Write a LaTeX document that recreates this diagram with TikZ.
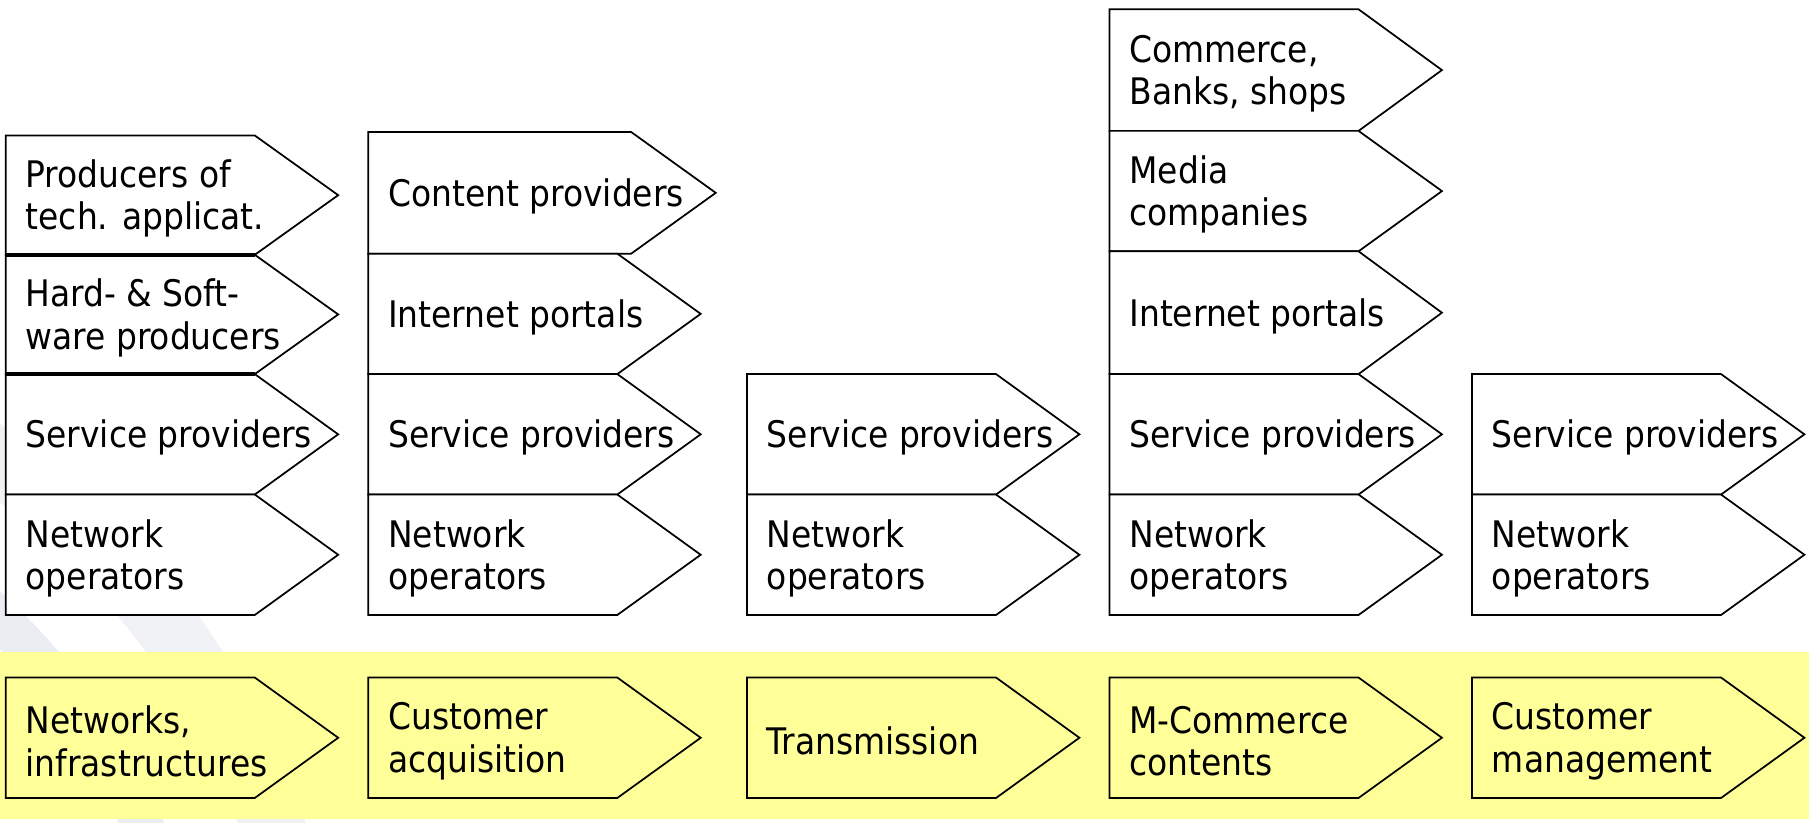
\documentclass[tikz,border=0pt]{standalone}
\usepackage{fontspec}
\setmainfont{DejaVu Sans Condensed}
\definecolor{bandyellow}{RGB}{255,255,153}
\definecolor{swoosh}{RGB}{240,242,246}
\definecolor{swooshb}{RGB}{234,237,242}
\newcommand{\chevbox}[8]{%
  \draw[boxline,fill=#8] (#2,#3) -- (#4,#3) -- (#6,{(#3+#5)/2}) -- (#4,#5) -- (#2,#5) -- cycle;
  \node[boxtext] (#1) at ({#2+17},{(#3+#5)/2+3}) {#7};
}
\begin{document}
\begin{tikzpicture}[x=1pt,y=-1pt,
  boxline/.style={draw=black,line width=1.5pt,line join=miter},
  thickdiv/.style={draw=black,line width=3pt},
  boxtext/.style={anchor=west,align=left,inner sep=0pt,font=\fontsize{31.6}{36.5}\selectfont}]
\useasboundingbox (0,0) rectangle (1568,710);
\fill[white] (0,0) rectangle (1568,710);
% faint background swooshes
\begin{scope}
\clip (0,0) rectangle (1568,710);
\fill[swoosh,even odd rule] (-380,930) circle[radius=680] (-380,930) circle[radius=625];
\fill[swooshb,even odd rule] (-380,930) circle[radius=566] (-380,930) circle[radius=530];
\end{scope}
% yellow band
\fill[bandyellow] (0,563) rectangle (1562,707);
% column 1
\chevbox{c1a}{5}{117}{220}{220}{292}{Producers of\\tech. applicat.}{white}
\chevbox{c1b}{5}{220}{220}{323}{292}{Hard- \& Soft-\\ware producers}{white}
\chevbox{c1c}{5}{323}{220}{427}{292}{Service providers}{white}
\chevbox{c1d}{5}{427}{220}{531}{292}{Network\\operators}{white}
\draw[thickdiv] (5,220) -- (220,220);
\draw[thickdiv] (5,323) -- (220,323);
% column 2
\chevbox{c2a}{318}{114}{545}{219}{618}{Content providers}{white}
\chevbox{c2b}{318}{219}{533}{323}{605}{Internet portals}{white}
\chevbox{c2c}{318}{323}{533}{427}{605}{Service providers}{white}
\chevbox{c2d}{318}{427}{533}{531}{605}{Network\\operators}{white}
% column 3
\chevbox{c3c}{645}{323}{860}{427}{932}{Service providers}{white}
\chevbox{c3d}{645}{427}{860}{531}{932}{Network\\operators}{white}
% column 4
\chevbox{c4a}{958}{8}{1173}{113}{1245}{Commerce,\\Banks, shops}{white}
\chevbox{c4b}{958}{113}{1173}{217}{1245}{Media\\companies}{white}
\chevbox{c4c}{958}{217}{1173}{323}{1245}{Internet portals}{white}
\chevbox{c4d}{958}{323}{1173}{427}{1245}{Service providers}{white}
\chevbox{c4e}{958}{427}{1173}{531}{1245}{Network\\operators}{white}
% column 5
\chevbox{c5c}{1271}{323}{1486}{427}{1558}{Service providers}{white}
\chevbox{c5d}{1271}{427}{1486}{531}{1558}{Network\\operators}{white}
% yellow row
\chevbox{y1}{5}{585}{220}{689}{292}{Networks,\\infrastructures}{bandyellow}
\chevbox{y2}{318}{585}{533}{689}{605}{Customer\\acquisition}{bandyellow}
\chevbox{y3}{645}{585}{860}{689}{932}{Transmission}{bandyellow}
\chevbox{y4}{958}{585}{1173}{689}{1245}{M-Commerce\\contents}{bandyellow}
\chevbox{y5}{1271}{585}{1486}{689}{1558}{Customer\\management}{bandyellow}
\end{tikzpicture}
\end{document}
